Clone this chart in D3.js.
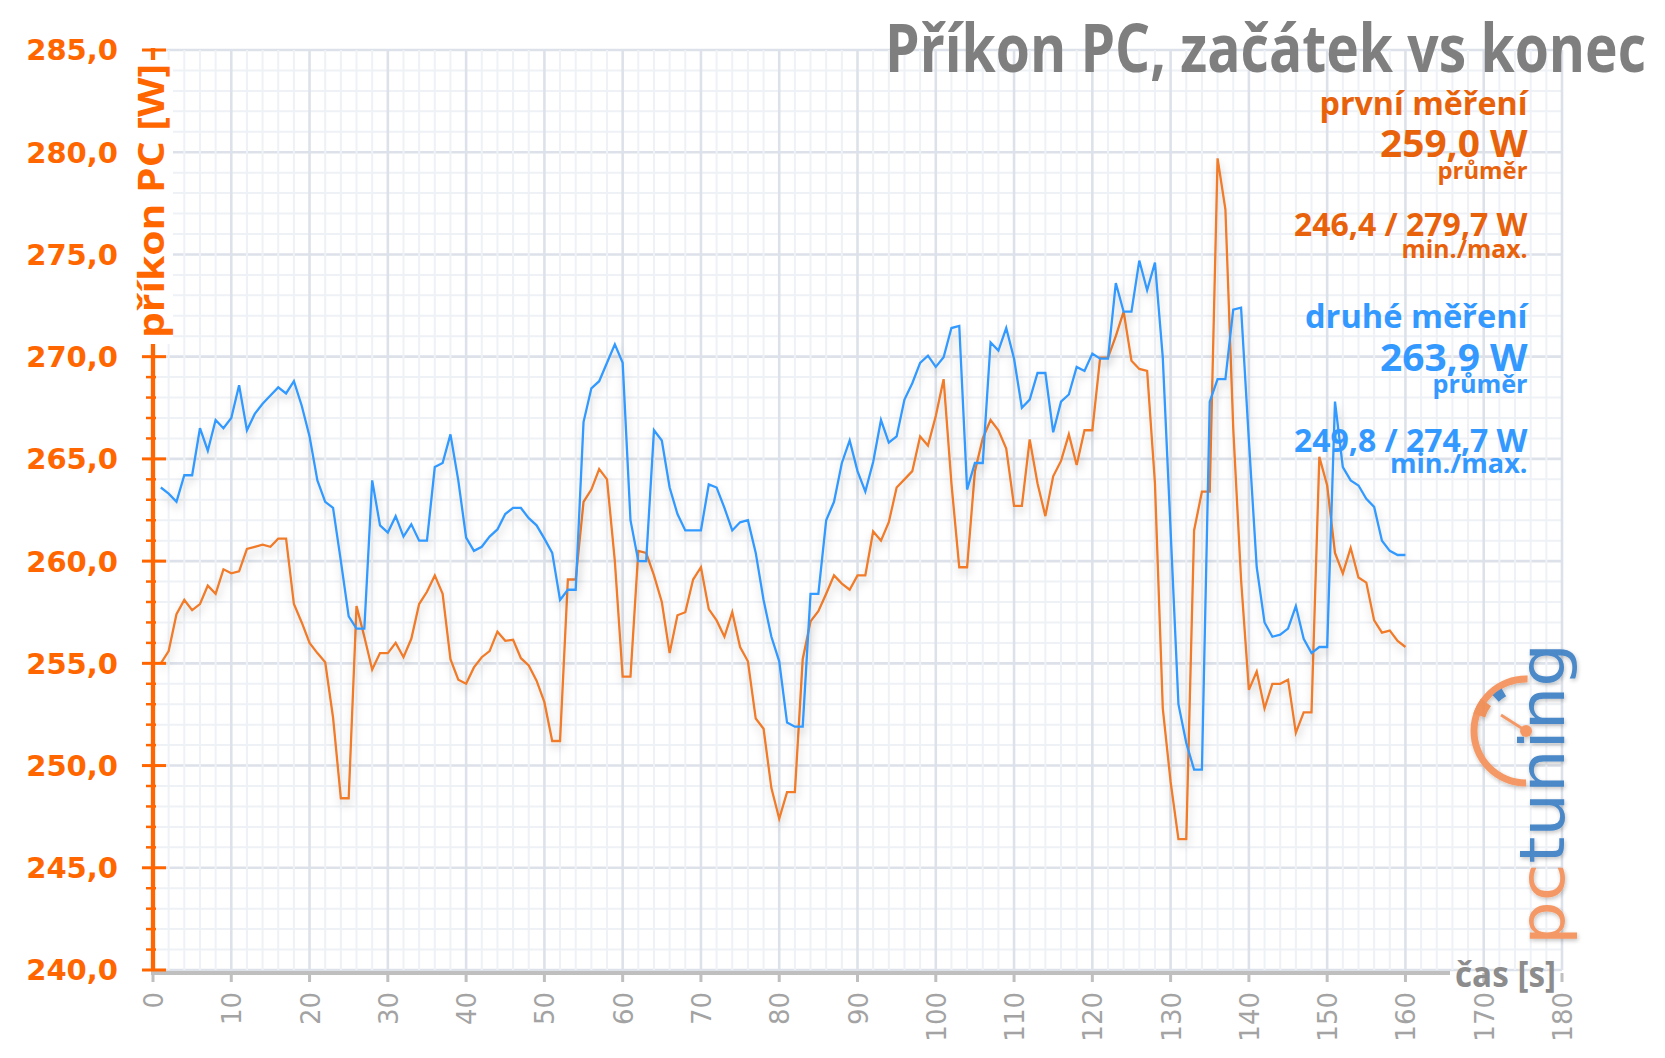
<!DOCTYPE html>
<html><head><meta charset="utf-8">
<script src="https://cdn.jsdelivr.net/npm/d3@7"></script>
<style>html,body{margin:0;padding:0;background:#fff;} svg{display:block;}</style>
</head><body>
<svg id="chart" width="1665" height="1058"></svg>
<script>
const seconds = d3.range(1, 161);
const prvniMereni = [
255.0,255.6,257.4,258.1,257.6,257.9,258.8,258.4,259.6,259.4,
259.5,260.6,260.7,260.8,260.7,261.1,261.1,257.9,257.0,256.0,
255.5,255.05,252.35,248.4,248.4,257.8,256.3,254.7,255.5,255.5,
256.0,255.3,256.2,257.9,258.5,259.3,258.4,255.2,254.2,254.0,
254.8,255.3,255.6,256.55,256.1,256.15,255.25,254.9,254.15,253.1,
251.2,251.2,259.1,259.1,262.9,263.5,264.5,264.0,260.0,254.35,
254.35,260.5,260.4,259.3,258.0,255.5,257.35,257.5,259.1,259.7,
257.65,257.1,256.3,257.5,255.8,255.1,252.3,251.8,248.9,247.4,
248.7,248.7,255.2,257.05,257.55,258.4,259.3,258.9,258.6,259.3,
259.3,261.45,261.0,261.9,263.6,264.0,264.4,266.1,265.65,267.1,
268.9,263.8,259.7,259.7,264.4,266.0,266.9,266.4,265.5,262.7,
262.7,265.95,263.8,262.2,264.15,264.9,266.2,264.7,266.4,266.4,
269.95,269.95,271.0,272.2,269.8,269.4,269.3,263.8,252.8,249.2,
246.4,246.4,261.5,263.4,263.4,279.7,277.2,266.5,259.1,253.7,
254.6,252.8,254.0,254.0,254.2,251.6,252.6,252.6,265.1,263.7,
260.4,259.4,260.65,259.2,258.95,257.1,256.5,256.6,256.1,255.8
];
const druheMereni = [
263.6,263.3,262.9,264.2,264.2,266.5,265.4,266.9,266.5,267.0,
268.6,266.4,267.2,267.7,268.1,268.5,268.2,268.8,267.6,266.1,
263.95,262.9,262.6,260.0,257.3,256.7,256.7,263.95,261.75,261.4,
262.2,261.2,261.8,261.0,261.0,264.6,264.8,266.2,263.95,261.15,
260.5,260.7,261.2,261.55,262.3,262.6,262.6,262.1,261.75,261.1,
260.4,258.1,258.6,258.6,266.8,268.45,268.8,269.7,270.6,269.7,
262.0,260.0,260.0,266.4,265.9,263.6,262.3,261.5,261.5,261.5,
263.75,263.6,262.6,261.5,261.9,262.0,260.4,258.1,256.3,255.1,
252.1,251.9,251.9,258.4,258.4,262.0,262.9,264.8,265.9,264.4,
263.4,264.85,266.9,265.8,266.1,267.9,268.7,269.7,270.05,269.5,
269.97,271.4,271.5,263.5,264.8,264.8,270.7,270.3,271.4,269.9,
267.5,267.9,269.2,269.2,266.3,267.8,268.15,269.5,269.3,270.15,
269.9,269.9,273.6,272.2,272.2,274.7,273.25,274.6,269.95,261.5,
253.0,251.1,249.8,249.8,267.8,268.9,268.9,272.3,272.4,265.9,
259.7,257.0,256.3,256.4,256.7,257.8,256.2,255.5,255.8,255.8,
267.8,264.6,263.95,263.7,263.05,262.65,261.0,260.5,260.3,260.3
];
const yTicks = [240,245,250,255,260,265,270,275,280,285];
const xTicks = [0,10,20,30,40,50,60,70,80,90,100,110,120,130,140,150,160,170,180];
const chartTitle = "Příkon PC, začátek vs konec";
const yTitle = "příkon PC [W]";
const xTitle = "čas [s]";
const legendPrvni = ["první měření", "259,0 W", "průměr", "246,4 / 279,7 W", "min./max."];
const legendDruhe = ["druhé měření", "263,9 W", "průměr", "249,8 / 274,7 W", "min./max."];

const svg = d3.select("#chart");
const x = d3.scaleLinear().domain([0, 180]).range([153, 1562]);
const y = d3.scaleLinear().domain([240, 285]).range([970, 50]);

const defs = svg.append("defs");
const f = defs.append("filter").attr("id","sh").attr("x","-5%").attr("y","-10%").attr("width","110%").attr("height","130%");
f.append("feDropShadow").attr("dx",1).attr("dy",5).attr("stdDeviation",4)
  .attr("flood-color","#000").attr("flood-opacity",0.2);
const f2 = defs.append("filter").attr("id","sh2").attr("x","-20%").attr("y","-20%").attr("width","140%").attr("height","140%");
f2.append("feDropShadow").attr("dx",1).attr("dy",2).attr("stdDeviation",2)
  .attr("flood-color","#000").attr("flood-opacity",0.25);

// grid
const grid = svg.append("g");
d3.range(240, 286).forEach(v => {
  grid.append("line").attr("x1", x(0)).attr("x2", x(180)).attr("y1", y(v)).attr("y2", y(v))
    .attr("stroke", v % 5 === 0 ? "#dde2ea" : "#eef1f5").attr("stroke-width", v % 5 === 0 ? 2.6 : 2);
});
d3.range(0, 181, 2).forEach(t => {
  grid.append("line").attr("y1", y(285)).attr("y2", y(240)).attr("x1", x(t)).attr("x2", x(t))
    .attr("stroke", t % 10 === 0 ? "#dde2ea" : "#eef1f5").attr("stroke-width", t % 10 === 0 ? 2.6 : 2);
});

// logo
const lg = svg.append("g").attr("filter","url(#sh2)").attr("opacity",0.92);
const lcx = 1526, lcy = 731, lr = 52;
const arcG = d3.arc();
lg.append("path").attr("transform",`translate(${lcx},${lcy})`)
  .attr("d", arcG({innerRadius: lr-3.5, outerRadius: lr+3.5, startAngle: -Math.PI, endAngle: 0.03}))
  .attr("fill","#f4915a");
lg.append("path").attr("transform",`translate(${lcx},${lcy})`)
  .attr("d", arcG({innerRadius: lr-9, outerRadius: lr+3.5, startAngle: -1.25, endAngle: -0.95}))
  .attr("fill","#f08a50");
lg.append("path").attr("transform",`translate(${lcx},${lcy})`)
  .attr("d", arcG({innerRadius: lr-12, outerRadius: lr-3, startAngle: -0.75, endAngle: -0.52}))
  .attr("fill","#3d7fc4");
lg.append("line").attr("x1",1501).attr("y1",715).attr("x2",lcx).attr("y2",lcy)
  .attr("stroke","#f4915a").attr("stroke-width",3);
lg.append("circle").attr("cx",lcx).attr("cy",lcy).attr("r",6).attr("fill","#f4915a");
const lt = lg.append("text").attr("transform","translate(1564,945) rotate(-90)")
  .attr("font-family","DejaVu Sans").attr("font-weight","normal").attr("font-size",62)
  .attr("textLength",302).attr("lengthAdjust","spacingAndGlyphs");
lt.append("tspan").attr("fill","#f4915a").text("pc");
lt.append("tspan").attr("fill","#3d7fc4").text("tuning");

// lines
const line = d3.line().x((d,i) => x(seconds[i])).y(d => y(d));
svg.append("path").datum(prvniMereni).attr("d", line).attr("fill","none")
  .attr("stroke","#f07b2c").attr("stroke-width",2.3).attr("filter","url(#sh)");
svg.append("path").datum(druheMereni).attr("d", line).attr("fill","none")
  .attr("stroke","#3399ff").attr("stroke-width",2.3).attr("filter","url(#sh)");

// x axis
svg.append("line").attr("x1", 151).attr("x2", 1450).attr("y1", 973).attr("y2", 973)
  .attr("stroke","#bfbfbf").attr("stroke-width",4);
xTicks.forEach(t => {
  svg.append("line").attr("x1", x(t)).attr("x2", x(t)).attr("y1", 973).attr("y2", 982)
    .attr("stroke","#bfbfbf").attr("stroke-width",3);
  svg.append("text").attr("transform", `translate(${x(t)+10},992) rotate(-90)`)
    .attr("text-anchor","end").attr("font-family","DejaVu Sans").attr("font-size",26)
    .attr("fill","#a3a3a3").text(t);
});
svg.append("text").attr("x",1455).attr("y",987).attr("font-family","Open Sans").attr("font-weight",700)
  .attr("font-size",36).attr("fill","#8c8c8c").attr("textLength",101).attr("lengthAdjust","spacingAndGlyphs")
  .text(xTitle);

// y axis
svg.append("line").attr("x1", 153).attr("x2", 153).attr("y1", 48).attr("y2", 971)
  .attr("stroke","#ff6600").attr("stroke-width",4.3);
d3.range(240, 286).forEach(v => {
  const major = v % 5 === 0;
  svg.append("line").attr("x1", major ? 142 : 146).attr("x2", major ? 166 : 156)
    .attr("y1", y(v)).attr("y2", y(v)).attr("stroke","#ff6600").attr("stroke-width", major ? 3 : 2.5);
});
yTicks.forEach(v => {
  svg.append("text").attr("x",118).attr("y", y(v)).attr("dy","0.36em").attr("text-anchor","end")
    .attr("font-family","DejaVu Sans").attr("font-weight","bold").attr("font-size",29)
    .attr("fill","#ff6600").text(v.toFixed(1).replace(".", ","));
});
svg.append("rect").attr("x",130).attr("y",60).attr("width",43).attr("height",284).attr("fill","#fff");
svg.append("text").attr("transform","translate(164,201) rotate(-90)").attr("text-anchor","middle")
  .attr("font-family","Open Sans").attr("font-weight",700).attr("font-size",35)
  .attr("fill","#ff6600").attr("textLength",274).attr("lengthAdjust","spacingAndGlyphs").text(yTitle);

// title
svg.append("text").attr("x",885).attr("y",72).attr("font-family","Open Sans").attr("font-weight",700)
  .attr("font-size",66).attr("fill","#7f7f7f").attr("textLength",761).attr("lengthAdjust","spacingAndGlyphs")
  .text(chartTitle);

// legend
const legRight = 1527.5;
const legLayout = [
  {y:115, w:208, s:33},
  {y:156.7, w:147.5, s:37},
  {y:179, w:90, s:24},
  {y:236, w:233.5, s:32},
  {y:258.3, w:126, s:25}
];
const legLayout2 = [
  {y:328.3, w:222.5, s:33},
  {y:371, w:147.5, s:37},
  {y:393.3, w:95, s:25},
  {y:451.7, w:233.5, s:32},
  {y:473.3, w:137.5, s:26}
];
function legend(texts, layout, color) {
  texts.forEach((t, i) => {
    const L = layout[i];
    svg.append("text").attr("x", legRight - L.w).attr("y", L.y)
      .attr("font-family","Open Sans").attr("font-weight",700).attr("font-size",L.s)
      .attr("fill",color).attr("textLength",L.w).attr("lengthAdjust","spacingAndGlyphs").text(t);
  });
}
legend(legendPrvni, legLayout, "#e8620c");
legend(legendDruhe, legLayout2, "#3399ff");
</script>
</body></html>
